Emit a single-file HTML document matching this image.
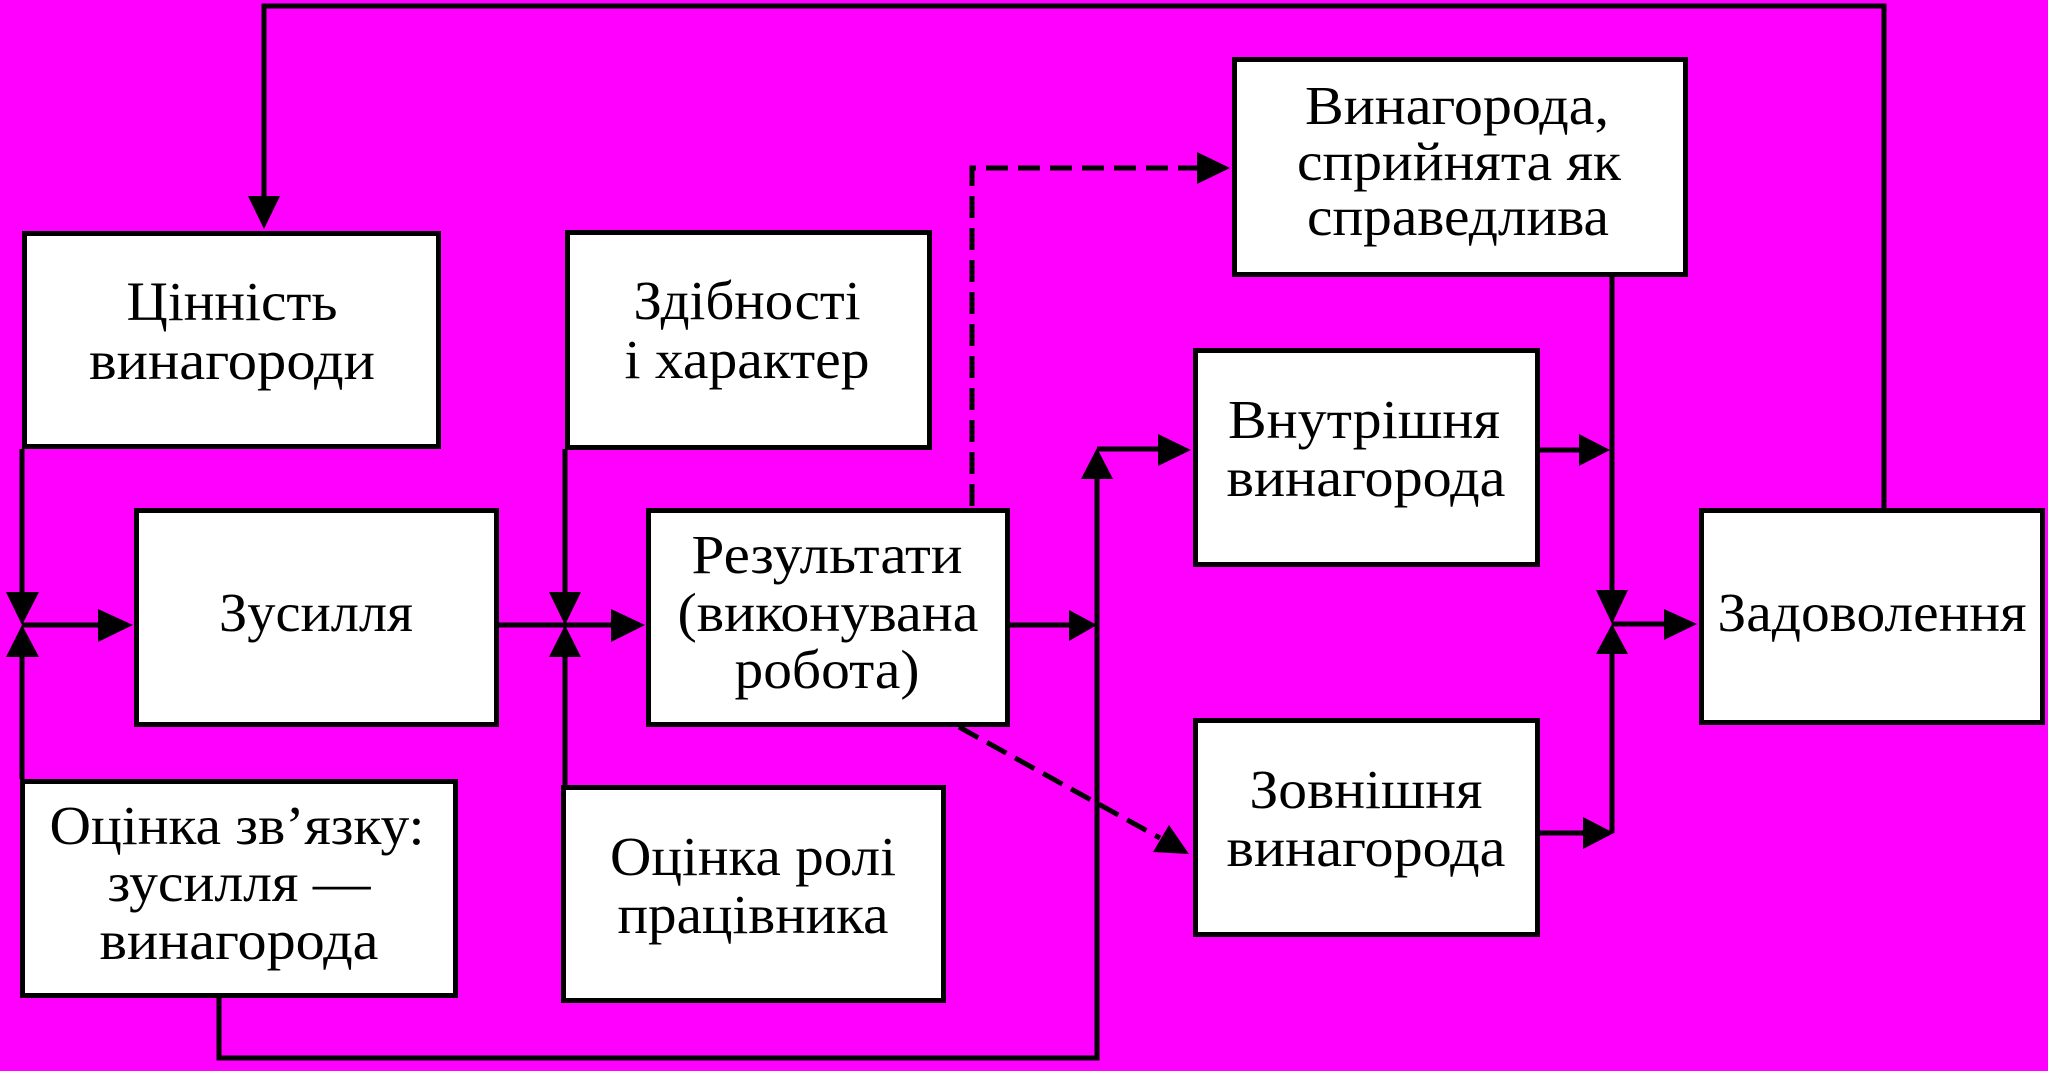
<!DOCTYPE html>
<html><head><meta charset="utf-8"><style>
html,body{margin:0;padding:0;background:#ff00ff;}
svg{display:block;}
text{font-family:"Liberation Serif","Times New Roman",serif;font-size:55px;fill:#000;}
</style></head><body>
<svg width="2048" height="1071" viewBox="0 0 2048 1071" xmlns="http://www.w3.org/2000/svg">
<rect x="0" y="0" width="2048" height="1071" fill="#ff00ff"/>
<g fill="#fff" stroke="#000" stroke-width="5">
<rect x="24.5" y="233.5" width="414" height="213"/>
<rect x="567.5" y="232.5" width="362" height="215"/>
<rect x="136.5" y="510.5" width="360" height="214"/>
<rect x="648.5" y="510.5" width="359" height="214"/>
<rect x="22.5" y="781.5" width="433" height="214"/>
<rect x="563.5" y="787.5" width="380" height="213"/>
<rect x="1234.5" y="59.5" width="451" height="215"/>
<rect x="1195.5" y="350.5" width="342" height="214"/>
<rect x="1195.5" y="720.5" width="342" height="214"/>
<rect x="1701.5" y="510.5" width="341" height="212"/>
</g>
<g fill="none" stroke="#000" stroke-width="5">
<path d="M1884,508 V6 H264 V200"/>
<path d="M22,449 V596"/>
<path d="M22,779 V654"/>
<path d="M22,625 H100"/>
<path d="M499,625 H565"/>
<path d="M565,449 V596"/>
<path d="M565,785 V654"/>
<path d="M565,625 H613"/>
<path d="M1010,625 H1071"/>
<path d="M219,998 V1058 H1097 V478"/>
<path d="M1097,449 H1160"/>
<path d="M1612,276 V592"/>
<path d="M1540,450 H1581"/>
<path d="M1540,833 H1585"/>
<path d="M1612,833 V654"/>
<path d="M1612,624 H1666"/>
</g>
<g fill="none" stroke="#000" stroke-width="5" stroke-dasharray="22 10">
<path d="M972,506 V168 H1198"/>
<path d="M959,727 L1160,838"/>
</g>
<g fill="#000">
<polygon points="248,196 280,196 264,229"/>
<polygon points="6,592 39,592 22,625"/>
<polygon points="6,657 39,657 22,625"/>
<polygon points="98,609 98,642 133,625"/>
<polygon points="549,592 581,592 565,625"/>
<polygon points="549,657 581,657 565,625"/>
<polygon points="611,609 611,642 645,625"/>
<polygon points="1069,610 1069,641 1097,625"/>
<polygon points="1081,479 1113,479 1097,448"/>
<polygon points="1158,434 1158,466 1191,450"/>
<polygon points="1197,152 1197,184 1230,168"/>
<polygon points="1153,852 1169,825 1189,854"/>
<polygon points="1596,590 1628,590 1612,624"/>
<polygon points="1579,434 1579,466 1610,450"/>
<polygon points="1583,817 1583,849 1614,833"/>
<polygon points="1596,654 1628,654 1612,624"/>
<polygon points="1664,609 1664,640 1697,624"/>
</g>
<g text-anchor="middle">
<text x="232" y="320" textLength="211" lengthAdjust="spacingAndGlyphs">Цінність</text>
<text x="232" y="379" textLength="286" lengthAdjust="spacingAndGlyphs">винагороди</text>
<text x="747" y="319" textLength="227" lengthAdjust="spacingAndGlyphs">Здібності</text>
<text x="747" y="378" textLength="245" lengthAdjust="spacingAndGlyphs">і характер</text>
<text x="316" y="631" textLength="194" lengthAdjust="spacingAndGlyphs">Зусилля</text>
<text x="827" y="573" textLength="271" lengthAdjust="spacingAndGlyphs">Результати</text>
<text x="828" y="631" textLength="301" lengthAdjust="spacingAndGlyphs">(виконувана</text>
<text x="827" y="688" textLength="185" lengthAdjust="spacingAndGlyphs">робота)</text>
<text x="237" y="844" textLength="375" lengthAdjust="spacingAndGlyphs">Оцінка зв’язку:</text>
<text x="239" y="901" textLength="263" lengthAdjust="spacingAndGlyphs">зусилля —</text>
<text x="239" y="959" textLength="279" lengthAdjust="spacingAndGlyphs">винагорода</text>
<text x="753" y="875" textLength="286" lengthAdjust="spacingAndGlyphs">Оцінка ролі</text>
<text x="753" y="933" textLength="271" lengthAdjust="spacingAndGlyphs">працівника</text>
<text x="1457" y="124" textLength="304" lengthAdjust="spacingAndGlyphs">Винагорода,</text>
<text x="1459" y="180" textLength="324" lengthAdjust="spacingAndGlyphs">сприйнята як</text>
<text x="1458" y="235" textLength="302" lengthAdjust="spacingAndGlyphs">справедлива</text>
<text x="1364" y="438" textLength="272" lengthAdjust="spacingAndGlyphs">Внутрішня</text>
<text x="1366" y="496" textLength="279" lengthAdjust="spacingAndGlyphs">винагорода</text>
<text x="1366" y="808" textLength="233" lengthAdjust="spacingAndGlyphs">Зовнішня</text>
<text x="1366" y="866" textLength="279" lengthAdjust="spacingAndGlyphs">винагорода</text>
<text x="1872" y="631" textLength="309" lengthAdjust="spacingAndGlyphs">Задоволення</text>
</g>
</svg>
</body></html>
